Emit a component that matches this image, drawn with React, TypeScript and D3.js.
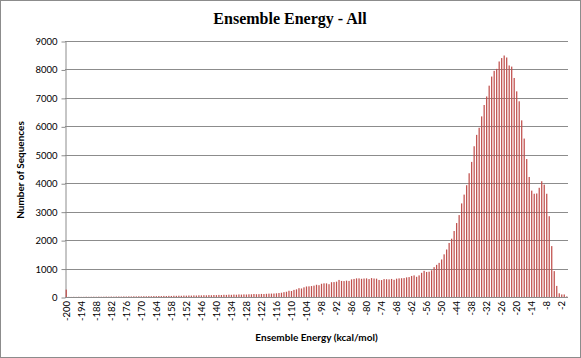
import * as d3 from "d3";
import { useEffect, useRef } from "react";

// bins of ensemble energy, -200 .. 0 kcal/mol
const energies: number[] = d3.range(-200, 1);

// number of sequences per bin (-200 first, then 10 per row)
const counts: number[] = [
  260,
  5, 3, 6, 4, 8, 5, 6, 9, 7, 8,
  10, 8, 12, 9, 11, 14, 12, 15, 13, 16,
  18, 15, 20, 17, 22, 19, 24, 21, 26, 23,
  28, 25, 30, 27, 33, 30, 35, 32, 38, 34,
  40, 37, 44, 41, 46, 43, 50, 47, 53, 49,
  56, 52, 60, 57, 63, 59, 67, 62, 70, 66,
  73, 69, 78, 74, 82, 77, 86, 80, 90, 85,
  92, 88, 95, 95, 105, 98, 100, 108, 104, 112,
  118, 120, 122, 130, 140, 150, 170, 185, 220, 210,
  250, 270, 310, 300, 340, 370, 375, 385, 400, 430,
  415, 465, 480, 480, 450, 520, 525, 540, 600, 565,
  560, 575, 565, 620, 635, 655, 655, 640, 650, 655,
  630, 665, 650, 645, 600, 595, 630, 625, 620, 635,
  605, 645, 655, 660, 665, 690, 700, 740, 760, 710,
  760, 850, 920, 880, 890, 940, 1050, 1130, 1200, 1320,
  1500, 1670, 1900, 2050, 2320, 2600, 2880, 3290, 3600, 3930,
  4350, 4750, 5300, 5700, 5950, 6350, 6750, 7050, 7430, 7750,
  7950, 8020, 8280, 8400, 8490, 8420, 8140, 8100, 7700, 7230,
  6880, 6210, 5570, 4850, 4220, 3740, 3630, 3640, 3840, 4070,
  3950, 3630, 2840, 1790, 910, 390, 130, 90, 90, 20,
];

const yTicks: number[] = [0, 1000, 2000, 3000, 4000, 5000, 6000, 7000, 8000, 9000];
// every 6th bin gets a label
const xTickLabels: number[] = energies.filter((_, i) => i % 6 === 0 && i < 199);

const App = () => {
  const ref = useRef<SVGSVGElement>(null);

  useEffect(() => {
    const W = 581, H = 358;
    const margin = { top: 41, right: 13, bottom: 61, left: 65 };
    const svg = d3.select(ref.current);
    svg.selectAll("*").remove();

    const data = energies.map((e, i) => ({ e, n: counts[i] }));

    const x = d3
      .scaleBand<number>()
      .domain(energies)
      .range([margin.left, W - margin.right])
      .paddingInner(0.5)
      .paddingOuter(0.25);
    const y = d3.scaleLinear().domain([0, 9000]).range([H - margin.bottom, margin.top]);

    // outer frame
    svg.append("rect")
      .attr("x", 0.5).attr("y", 0.5)
      .attr("width", W - 1).attr("height", H - 1)
      .attr("fill", "#fff").attr("stroke", "#8c8c8c");

    // gridlines
    svg.append("g")
      .selectAll("line")
      .data(yTicks.filter((t) => t > 0))
      .join("line")
      .attr("x1", margin.left).attr("x2", W - margin.right)
      .attr("y1", (d) => Math.round(y(d)) + 0.5).attr("y2", (d) => Math.round(y(d)) + 0.5)
      .attr("stroke", "#8c8c8c");

    // y axis
    const yAxis = svg.append("g")
      .attr("transform", `translate(${margin.left + 0.5},0.5)`)
      .call(
        d3.axisLeft(y)
          .tickValues(yTicks)
          .tickFormat(d3.format("d"))
          .tickSize(4)
          .tickSizeOuter(0)
          .tickPadding(4)
      );
    yAxis.select(".domain").attr("stroke", "#8c8c8c");
    yAxis.selectAll(".tick line").attr("stroke", "#8c8c8c");
    yAxis.selectAll("text")
      .attr("font-family", "Lato, 'Open Sans', sans-serif")
      .attr("font-size", 9.5)
      .attr("fill", "#000");

    // bars
    svg.append("g")
      .selectAll("rect")
      .data(data)
      .join("rect")
      .attr("x", (d) => x(d.e)!)
      .attr("y", (d) => y(d.n))
      .attr("width", x.bandwidth())
      .attr("height", (d) => y(0) - y(d.n))
      .attr("fill", "#c0504d");

    // x axis line
    svg.append("line")
      .attr("x1", margin.left).attr("x2", W - margin.right)
      .attr("y1", Math.round(y(0)) + 0.5).attr("y2", Math.round(y(0)) + 0.5)
      .attr("stroke", "#8c8c8c");

    // x tick labels, rotated
    svg.append("g")
      .selectAll("text")
      .data(xTickLabels)
      .join("text")
      .attr("transform", (d) => `translate(${x(d)! + x.bandwidth() / 2 + 3.5},${y(0) + 4}) rotate(-90)`)
      .attr("text-anchor", "end")
      .attr("font-family", "Lato, 'Open Sans', sans-serif")
      .attr("font-size", 9.5)
      .text((d) => String(d));

    // titles
    svg.append("text")
      .attr("x", 290).attr("y", 24)
      .attr("text-anchor", "middle")
      .attr("font-family", "'Liberation Serif', serif")
      .attr("font-weight", "bold")
      .attr("font-size", 16)
      .text("Ensemble Energy - All");

    svg.append("text")
      .attr("x", (margin.left + W - margin.right) / 2).attr("y", 341)
      .attr("text-anchor", "middle")
      .attr("font-family", "Lato, 'Open Sans', sans-serif")
      .attr("font-weight", "bold")
      .attr("font-size", 10)
      .text("Ensemble Energy (kcal/mol)");

    svg.append("text")
      .attr("transform", `translate(24,170) rotate(-90)`)
      .attr("text-anchor", "middle")
      .attr("font-family", "Lato, 'Open Sans', sans-serif")
      .attr("font-weight", "bold")
      .attr("font-size", 10)
      .text("Number of Sequences");
  }, []);

  return (
    <svg
      ref={ref}
      width={581}
      height={358}
      style={{ position: "absolute", left: 0, top: 0, display: "block" }}
    />
  );
};

export default App;
